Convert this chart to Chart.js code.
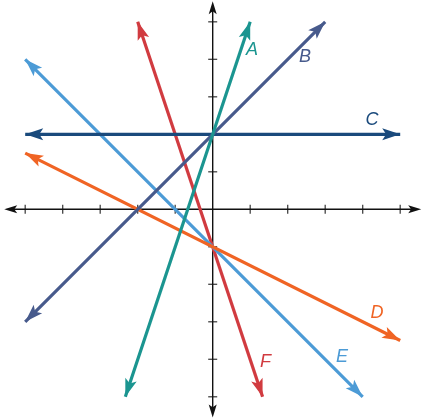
<!DOCTYPE html>
<html>
<head>
<meta charset="utf-8">
<script src="https://cdn.jsdelivr.net/npm/chart.js@4.4.0/dist/chart.umd.min.js"></script>
<style>
html,body{margin:0;padding:0;background:#fff;}
#wrap{width:425px;height:419px;}
</style>
</head>
<body>
<div id="wrap"><canvas id="c" width="425" height="419"></canvas></div>
<script>
// ---- data ----
const lineNames = ["A", "B", "C", "D", "E", "F"];
const lineA = [{x: -2.33, y: -5}, {x: 1, y: 5}];
const lineB = [{x: -5, y: -3}, {x: 3, y: 5}];
const lineC = [{x: -5, y: 2}, {x: 5, y: 2}];
const lineD = [{x: -5, y: 1.5}, {x: 5, y: -3.5}];
const lineE = [{x: -5, y: 4}, {x: 4, y: -5}];
const lineF = [{x: -2, y: 5}, {x: 1.33, y: -5}];
const xTicks = [-5, -4, -3, -2, -1, 1, 2, 3, 4, 5];
const yTicks = [-5, -4, -3, -2, -1, 1, 2, 3, 4, 5];
const labelX = [1.05, 2.46, 4.25, 4.38, 3.45, 1.41];
const labelY = [4.25, 4.05, 2.37, -2.76, -3.93, -4.06];

const colors = ["#1b9590", "#475a8c", "#1a4a7c", "#f06424", "#4c9bd6", "#d13b40"];
const allLines = [lineA, lineB, lineC, lineD, lineE, lineF];

function arrow(ctx, tx, ty, fx, fy, len, half, color) {
  const ang = Math.atan2(ty - fy, tx - fx);
  ctx.save();
  ctx.translate(tx, ty);
  ctx.rotate(ang);
  ctx.beginPath();
  ctx.moveTo(0, 0);
  ctx.lineTo(-len, half);
  ctx.lineTo(-len * 0.78, 0);
  ctx.lineTo(-len, -half);
  ctx.closePath();
  ctx.fillStyle = color;
  ctx.fill();
  ctx.restore();
}

const axesPlugin = {
  id: 'axesPlugin',
  beforeDatasetsDraw(chart) {
    const ctx = chart.ctx;
    const xs = chart.scales.x, ys = chart.scales.y;
    const x0 = xs.getPixelForValue(0), y0 = ys.getPixelForValue(0);
    const left = xs.getPixelForValue(xs.min), right = xs.getPixelForValue(xs.max);
    const top = ys.getPixelForValue(ys.max), bottom = ys.getPixelForValue(ys.min);
    ctx.save();
    ctx.strokeStyle = "#444";
    ctx.lineWidth = 1.3;
    xTicks.forEach(v => {
      const p = xs.getPixelForValue(v);
      ctx.beginPath(); ctx.moveTo(p, y0 - 4.5); ctx.lineTo(p, y0 + 4.5); ctx.stroke();
    });
    yTicks.forEach(v => {
      const p = ys.getPixelForValue(v);
      ctx.beginPath(); ctx.moveTo(x0 - 4.5, p); ctx.lineTo(x0 + 4.5, p); ctx.stroke();
    });
    ctx.strokeStyle = "#111";
    ctx.lineWidth = 1.4;
    ctx.beginPath();
    ctx.moveTo(left + 6, y0); ctx.lineTo(right - 6, y0);
    ctx.moveTo(x0, top + 6); ctx.lineTo(x0, bottom - 6);
    ctx.stroke();
    arrow(ctx, left, y0, x0, y0, 13, 4, "#111");
    arrow(ctx, right, y0, x0, y0, 13, 4, "#111");
    arrow(ctx, x0, top, x0, y0, 13, 4, "#111");
    arrow(ctx, x0, bottom, x0, y0, 13, 4, "#111");
    ctx.restore();
  },
  afterDatasetsDraw(chart) {
    const ctx = chart.ctx;
    const xs = chart.scales.x, ys = chart.scales.y;
    chart.data.datasets.forEach((ds, i) => {
      const meta = chart.getDatasetMeta(i);
      const p0 = meta.data[0], p1 = meta.data[meta.data.length - 1];
      arrow(ctx, p0.x, p0.y, p1.x, p1.y, 18, 6, ds.borderColor);
      arrow(ctx, p1.x, p1.y, p0.x, p0.y, 18, 6, ds.borderColor);
    });
    ctx.save();
    ctx.font = "italic 18px 'Liberation Sans', Arial, sans-serif";
    ctx.textAlign = "center";
    ctx.textBaseline = "middle";
    lineNames.forEach((n, i) => {
      ctx.fillStyle = colors[i];
      ctx.fillText(n, xs.getPixelForValue(labelX[i]), ys.getPixelForValue(labelY[i]));
    });
    ctx.restore();
  }
};

new Chart(document.getElementById('c'), {
  type: 'scatter',
  data: {
    datasets: allLines.map((d, i) => ({
      label: lineNames[i],
      data: d,
      showLine: true,
      borderColor: colors[i],
      backgroundColor: colors[i],
      borderWidth: 3.2,
      pointRadius: 0,
      pointHoverRadius: 0,
      clip: false
    }))
  },
  options: {
    responsive: false,
    animation: false,
    devicePixelRatio: 1,
    layout: {padding: {left: 4.2, right: 3.8, top: 1.2, bottom: 1.6}},
    plugins: {legend: {display: false}, tooltip: {enabled: false}},
    events: [],
    scales: {
      x: {type: 'linear', min: -5.56, max: 5.56, display: false},
      y: {type: 'linear', min: -5.55, max: 5.55, display: false}
    }
  },
  plugins: [axesPlugin]
});
</script>
</body>
</html>
